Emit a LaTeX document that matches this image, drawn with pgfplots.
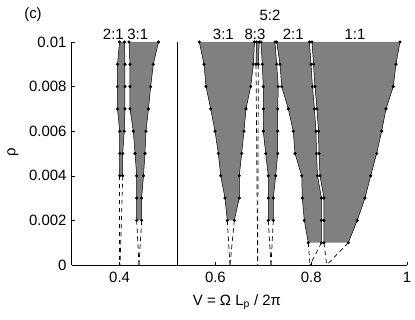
\documentclass[border=0pt]{standalone}
\usepackage{fontspec}
\setmainfont{Liberation Sans}
\usepackage{pgfplots}
\pgfplotsset{compat=1.18}
\definecolor{tongue}{gray}{0.5}

\pgfplotsset{
  fillt/.style={fill=tongue, draw=none, forget plot},
  edge/.style={black, line width=0.5bp, mark=*, mark size=1.3bp, mark options={fill=black}, forget plot},
  dash/.style={black, line width=0.7bp, dash pattern=on 4.5bp off 3.5bp, forget plot},
}

\begin{document}
\fontsize{15}{18}\selectfont
\begin{tikzpicture}
\begin{axis}[
  scale only axis,
  width=335.3bp, height=223bp,
  xmin=0.3, xmax=1, ymin=0, ymax=0.01,
  axis x line*=bottom, axis y line*=left,
  xtick={0.4,0.6,0.8,1}, xticklabels={0.4,0.6,0.8,1},
  ytick={0,0.002,0.004,0.006,0.008,0.01},
  yticklabels={0,0.002,0.004,0.006,0.008,0.01},
  scaled x ticks=false, scaled y ticks=false,
  tick align=inside, major tick length=3bp,
  tick style={black, line width=0.4bp},
  axis line style={black, line width=0.5bp},
  xticklabel style={yshift=-2bp},
  xlabel={V = Ω L\textsubscript{p} / 2π},
  ylabel={ρ},
  xlabel style={at={(axis description cs:0.493,-0.166)}, anchor=center},
  ylabel style={at={(axis description cs:-0.175,0.507)}, anchor=center},
  clip=false,
]
% 2:1 (left group)
\addplot[fillt] coordinates {(0.3998,0.01) (0.3956,0.009) (0.3956,0.008) (0.3956,0.007) (0.4003,0.006) (0.4003,0.005) (0.4003,0.004)
  (0.4065,0.004) (0.4065,0.005) (0.4098,0.006) (0.4113,0.007) (0.4113,0.008) (0.4113,0.009) (0.4102,0.01)} -- cycle;
% 3:1 (left group)
\addplot[fillt] coordinates {(0.4196,0.01) (0.4217,0.009) (0.4217,0.008) (0.4217,0.007) (0.4286,0.006) (0.4322,0.005) (0.4357,0.004) (0.4357,0.003) (0.4357,0.002)
  (0.4461,0.002) (0.4461,0.003) (0.4499,0.004) (0.4530,0.005) (0.4551,0.006) (0.4603,0.007) (0.4649,0.008) (0.4704,0.009) (0.4812,0.01)} -- cycle;
% 3:1 (right group)
\addplot[fillt] coordinates {(0.5664,0.01) (0.5762,0.009) (0.5804,0.008) (0.5902,0.007) (0.5992,0.006) (0.6061,0.005) (0.6111,0.004) (0.6200,0.003) (0.6248,0.002)
  (0.6395,0.002) (0.6499,0.003) (0.6499,0.004) (0.6549,0.005) (0.6597,0.006) (0.6639,0.007) (0.6737,0.008) (0.6795,0.009) (0.6816,0.01)} -- cycle;
% 8:3
\addplot[fillt] coordinates {(0.6858,0.01) (0.6848,0.009) (0.6896,0.009) (0.6916,0.01)} -- cycle;
% 5:2
\addplot[fillt] coordinates {(0.6952,0.01) (0.6979,0.009) (0.7000,0.008) (0.7000,0.007) (0.7000,0.006) (0.7050,0.005) (0.7104,0.004) (0.7104,0.003) (0.7104,0.002)
  (0.7209,0.002) (0.7209,0.003) (0.7259,0.004) (0.7301,0.005) (0.7301,0.006) (0.7301,0.007) (0.7313,0.008) (0.7280,0.009) (0.7244,0.01)} -- cycle;
% 2:1 (right group)
\addplot[fillt] coordinates {(0.7280,0.01) (0.7349,0.009) (0.7384,0.008) (0.7522,0.007) (0.7626,0.006) (0.7662,0.005) (0.7802,0.004) (0.7814,0.003) (0.7856,0.002) (0.7939,0.001)
  (0.8215,0.001) (0.8215,0.002) (0.8215,0.003) (0.8132,0.004) (0.8111,0.005) (0.8100,0.006) (0.8069,0.007) (0.8027,0.008) (0.7996,0.009) (0.7965,0.01)} -- cycle;
% 1:1
\addplot[fillt] coordinates {(0.8017,0.01) (0.8048,0.009) (0.8079,0.008) (0.8121,0.007) (0.8152,0.006) (0.8163,0.005) (0.8184,0.004) (0.8267,0.003) (0.8267,0.002) (0.8267,0.001)
  (0.8775,0.001) (0.8962,0.002) (0.9123,0.003) (0.9242,0.004) (0.9367,0.005) (0.9472,0.006) (0.9562,0.007) (0.9714,0.008) (0.9770,0.009) (0.9854,0.01)} -- cycle;

% tongue edges
\addplot[edge] coordinates {(0.3998,0.01) (0.3956,0.009) (0.3956,0.008) (0.3956,0.007) (0.4003,0.006) (0.4003,0.005) (0.4003,0.004)};
\addplot[edge] coordinates {(0.4102,0.01) (0.4113,0.009) (0.4113,0.008) (0.4113,0.007) (0.4098,0.006) (0.4065,0.005) (0.4065,0.004)};
\addplot[edge] coordinates {(0.4196,0.01) (0.4217,0.009) (0.4217,0.008) (0.4217,0.007) (0.4286,0.006) (0.4322,0.005) (0.4357,0.004) (0.4357,0.003) (0.4357,0.002)};
\addplot[edge] coordinates {(0.4812,0.01) (0.4704,0.009) (0.4649,0.008) (0.4603,0.007) (0.4551,0.006) (0.4530,0.005) (0.4499,0.004) (0.4461,0.003) (0.4461,0.002)};
\addplot[edge] coordinates {(0.5664,0.01) (0.5762,0.009) (0.5804,0.008) (0.5902,0.007) (0.5992,0.006) (0.6061,0.005) (0.6111,0.004) (0.6200,0.003) (0.6248,0.002)};
\addplot[edge] coordinates {(0.6816,0.01) (0.6795,0.009) (0.6737,0.008) (0.6639,0.007) (0.6597,0.006) (0.6549,0.005) (0.6499,0.004) (0.6499,0.003) (0.6395,0.002)};
\addplot[edge] coordinates {(0.6858,0.01) (0.6848,0.009)};
\addplot[edge] coordinates {(0.6916,0.01) (0.6896,0.009)};
\addplot[edge] coordinates {(0.6952,0.01) (0.6979,0.009) (0.7000,0.008) (0.7000,0.007) (0.7000,0.006) (0.7050,0.005) (0.7104,0.004) (0.7104,0.003) (0.7104,0.002)};
\addplot[edge] coordinates {(0.7244,0.01) (0.7280,0.009) (0.7313,0.008) (0.7301,0.007) (0.7301,0.006) (0.7301,0.005) (0.7259,0.004) (0.7209,0.003) (0.7209,0.002)};
\addplot[edge] coordinates {(0.7280,0.01) (0.7349,0.009) (0.7384,0.008) (0.7522,0.007) (0.7626,0.006) (0.7662,0.005) (0.7802,0.004) (0.7814,0.003) (0.7856,0.002) (0.7939,0.001)};
\addplot[edge] coordinates {(0.7965,0.01) (0.7996,0.009) (0.8027,0.008) (0.8069,0.007) (0.8100,0.006) (0.8111,0.005) (0.8132,0.004) (0.8215,0.003) (0.8215,0.002) (0.8215,0.001)};
\addplot[edge] coordinates {(0.8017,0.01) (0.8048,0.009) (0.8079,0.008) (0.8121,0.007) (0.8152,0.006) (0.8163,0.005) (0.8184,0.004) (0.8267,0.003) (0.8267,0.002) (0.8267,0.001)};
\addplot[edge] coordinates {(0.9854,0.01) (0.9770,0.009) (0.9714,0.008) (0.9562,0.007) (0.9472,0.006) (0.9367,0.005) (0.9242,0.004) (0.9123,0.003) (0.8962,0.002) (0.8775,0.001)};

% extrapolation to rho = 0
\addplot[dash] coordinates {(0.4003,0.004) (0.4003,0)};
\addplot[dash] coordinates {(0.4065,0.004) (0.4010,0)};
\addplot[dash] coordinates {(0.4357,0.002) (0.4405,0)};
\addplot[dash] coordinates {(0.4461,0.002) (0.4405,0)};
\addplot[dash] coordinates {(0.6248,0.002) (0.6305,0)};
\addplot[dash] coordinates {(0.6395,0.002) (0.6305,0)};
\addplot[dash] coordinates {(0.6848,0.009) (0.6883,0)};
\addplot[dash] coordinates {(0.6896,0.009) (0.6883,0)};
\addplot[dash] coordinates {(0.7104,0.002) (0.7161,0)};
\addplot[dash] coordinates {(0.7209,0.002) (0.7161,0)};
\addplot[dash] coordinates {(0.7939,0.001) (0.7975,0)};
\addplot[dash] coordinates {(0.8215,0.001) (0.7975,0)};
\addplot[dash] coordinates {(0.8267,0.001) (0.8324,0)};
\addplot[dash] coordinates {(0.8775,0.001) (0.8324,0)};

\addplot[black, line width=0.5bp, forget plot] coordinates {(0.52,0) (0.52,0.01)};

\node at (axis cs:0.3870,0.01036) {2:1};
\node at (axis cs:0.4380,0.01036) {3:1};
\node at (axis cs:0.6166,0.01036) {3:1};
\node at (axis cs:0.6827,0.01036) {8:3};
\node at (axis cs:0.7140,0.01121) {5:2};
\node at (axis cs:0.7626,0.01036) {2:1};
\node at (axis cs:0.8914,0.01036) {1:1};
\node at (rel axis cs:-0.1154,1.121) {(c)};

\coordinate (bbsw) at (rel axis cs:-0.2138,-0.2466);
\coordinate (bbne) at (rel axis cs:1.0239,1.1883);
\end{axis}
\pgfresetboundingbox
\path (bbsw) rectangle (bbne);
\end{tikzpicture}
\end{document}
